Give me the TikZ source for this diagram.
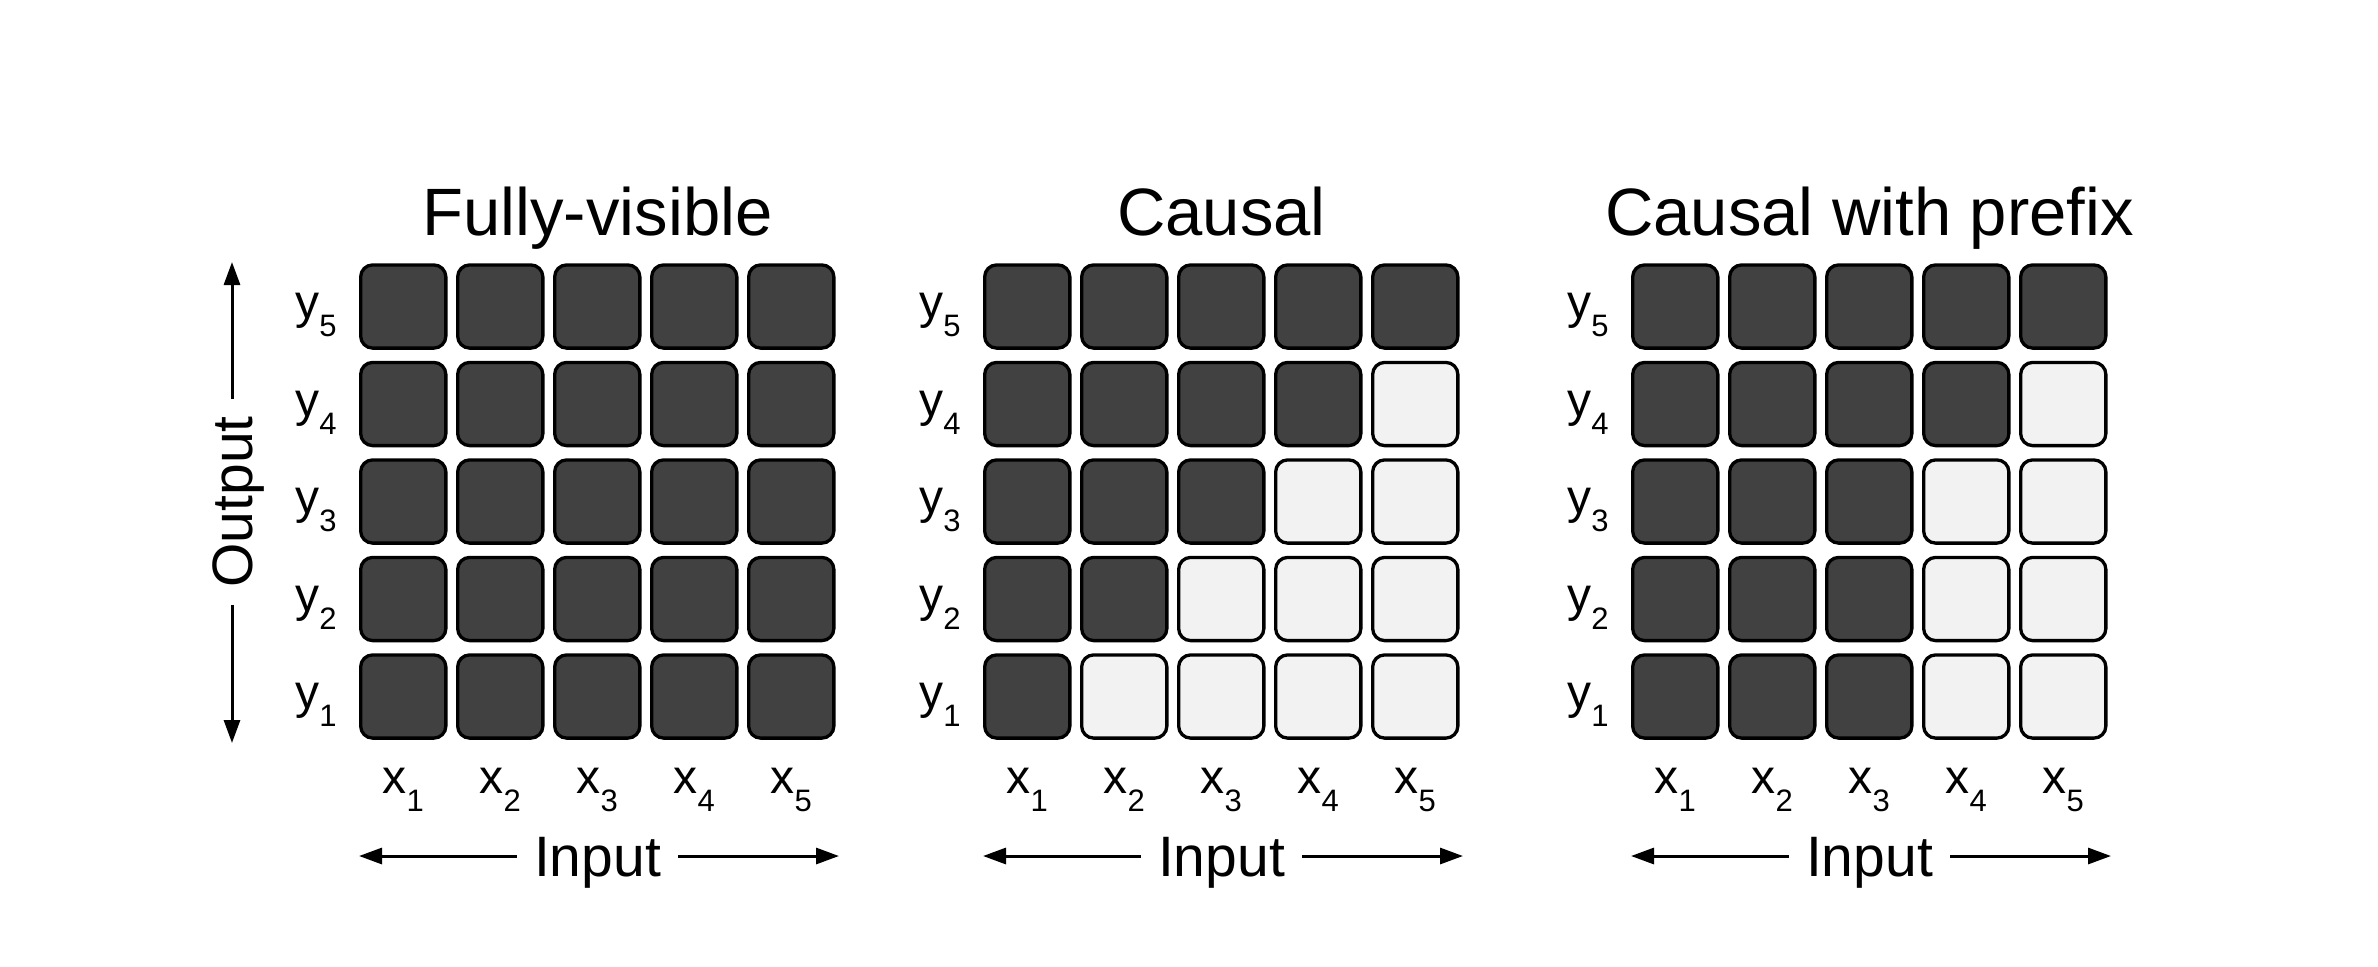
\documentclass[tikz,border=0pt]{standalone}
\usepackage{fontspec}
\setmainfont{Liberation Sans}
\usetikzlibrary{arrows.meta}
\definecolor{cdark}{HTML}{414141}
\definecolor{clight}{HTML}{F2F2F2}
\newcommand{\sublab}[2]{#1\raisebox{-9pt}{\fontsize{15.5}{16}\selectfont #2}}
\begin{document}
\begin{tikzpicture}[x=0.5pt,y=-0.5pt,
  cell/.style={draw=black, line width=1.65pt, rounded corners=6pt, minimum width=42.6pt, minimum height=41.6pt, inner sep=0pt},
  ttl/.style={font=\fontsize{33.5}{40}\selectfont, anchor=base, inner sep=0pt},
  axl/.style={font=\fontsize{28.5}{34}\selectfont, inner xsep=8.5pt, inner ysep=0pt},
  lbl/.style={font=\fontsize{24}{28}\selectfont, inner sep=0pt},
  arr/.style={line width=1.5pt, -{Triangle[length=11.5pt,width=8pt]}}]
\useasboundingbox (0,0) rectangle (2378,966);
\foreach \g/\gx/\ttltext in {1/359/Fully-visible, 2/983/Causal, 3/1631/Causal with prefix}{
  \node[ttl] (t\g) at (\gx+238.5,235) {\ttltext};
  \foreach \k in {1,...,5}{
    \node[lbl, anchor=base east] (yl\g-\k) at (\gx-22, 306.5+97.5*5-97.5*\k+12) {\sublab{y}{\k}};
    \foreach \j in {1,...,5}{
      \pgfmathtruncatemacro{\lit}{((\g==2) && (\j>\k)) || ((\g==3) && (\j>max(\k,3))) ? 1 : 0}
      \ifnum\lit=1 \def\fillc{clight}\else\def\fillc{cdark}\fi
      \node[cell, fill=\fillc] (g\g-\k-\j) at (\gx+44.25+97*\j-97, 306.5+97.5*5-97.5*\k) {};
    }
  }
  \foreach \j in {1,...,5}{
    \node[lbl, anchor=base] (xl\g-\j) at (\gx+44.25+97*\j-97, 793) {\sublab{x}{\j}};
  }
  \node[axl, anchor=base] (in\g) at (\gx+238.5,876) {Input};
  \coordinate (inL\g) at (\gx,856);
  \coordinate (inR\g) at (\gx+480,856);
  \draw[arr] (in\g.west |- inL\g) -- (inL\g);
  \draw[arr] (in\g.east |- inR\g) -- (inR\g);
}
\node[axl, rotate=90, anchor=base] (out) at (252,502) {Output};
\coordinate (oT) at (232,262);
\coordinate (oB) at (232,743);
\draw[arr] (oT |- out.east) -- (oT);
\draw[arr] (oB |- out.west) -- (oB);
\end{tikzpicture}
\end{document}
